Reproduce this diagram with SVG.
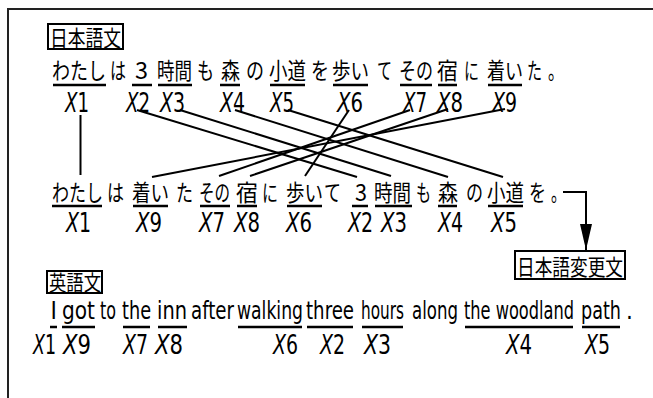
<svg xmlns="http://www.w3.org/2000/svg" width="653" height="398" viewBox="0 0 653 398">
<style>
.jp{font-family:"Noto Sans CJK JP","Noto Sans CJK SC",sans-serif;font-size:23px;fill:#000}
.en{font-family:"DejaVu Sans Condensed","DejaVu Sans",sans-serif;font-size:24px;fill:#000}
.lb{font-family:"DejaVu Sans Condensed","DejaVu Sans",sans-serif;font-size:26px;fill:#000}
.i{font-style:italic}
.ul{stroke:#000;stroke-width:2.5}
.cn{stroke:#000;stroke-width:2;fill:none}
.box{fill:none;stroke:#000;stroke-width:2}
</style>
<defs>
<marker id="ah" viewBox="0 0 26 12" refX="26" refY="6" markerWidth="26" markerHeight="12" markerUnits="userSpaceOnUse" orient="auto">
<path d="M0 0 L26 6 L0 12 Z" fill="#000"/>
</marker>
</defs>
<rect x="8" y="9" width="700" height="450" fill="none" stroke="#222" stroke-width="2"/>

<g id="title-ja"><rect class="box" x="48" y="24" width="75" height="25"/><text class="jp" x="50" y="45.5" textLength="71" lengthAdjust="spacingAndGlyphs" style="font-size:22px">日本語文</text></g>

<!-- Row 1 -->
<g id="r1">
<text class="jp" x="52" y="78.5" textLength="54" lengthAdjust="spacingAndGlyphs">わたし</text>
<text class="jp" x="110" y="78.5" textLength="16" lengthAdjust="spacingAndGlyphs">は</text>
<text class="jp" x="135" y="78.5" textLength="13" lengthAdjust="spacingAndGlyphs">3</text>
<text class="jp" x="157" y="78.5" textLength="35" lengthAdjust="spacingAndGlyphs">時間</text>
<text class="jp" x="197" y="78.5" textLength="17" lengthAdjust="spacingAndGlyphs">も</text>
<text class="jp" x="221" y="78.5" textLength="19" lengthAdjust="spacingAndGlyphs">森</text>
<text class="jp" x="246" y="78.5" textLength="18" lengthAdjust="spacingAndGlyphs">の</text>
<text class="jp" x="269" y="78.5" textLength="37" lengthAdjust="spacingAndGlyphs">小道</text>
<text class="jp" x="311" y="78.5" textLength="18" lengthAdjust="spacingAndGlyphs">を</text>
<text class="jp" x="332" y="78.5" textLength="37" lengthAdjust="spacingAndGlyphs">歩い</text>
<text class="jp" x="377" y="78.5" textLength="15" lengthAdjust="spacingAndGlyphs">て</text>
<text class="jp" x="399" y="78.5" textLength="34" lengthAdjust="spacingAndGlyphs">その</text>
<text class="jp" x="437" y="78.5" textLength="21" lengthAdjust="spacingAndGlyphs">宿</text>
<text class="jp" x="464" y="78.5" textLength="15" lengthAdjust="spacingAndGlyphs">に</text>
<text class="jp" x="487" y="78.5" textLength="36" lengthAdjust="spacingAndGlyphs">着い</text>
<text class="jp" x="527" y="78.5" textLength="15" lengthAdjust="spacingAndGlyphs">た</text>
<text class="jp" x="548" y="78.5" textLength="16" lengthAdjust="spacingAndGlyphs">。</text>
<path class="ul" d="M53 85H106M132 85H152M158 85H192M220 85H240M270 85H305M333 85H368M400 85H432M438 85H457M488 85H522"/>
<text class="lb" x="65" y="112" textLength="24" lengthAdjust="spacingAndGlyphs"><tspan class="i">X</tspan>1</text>
<text class="lb" x="126" y="112" textLength="24" lengthAdjust="spacingAndGlyphs"><tspan class="i">X</tspan>2</text>
<text class="lb" x="160" y="112" textLength="25" lengthAdjust="spacingAndGlyphs"><tspan class="i">X</tspan>3</text>
<text class="lb" x="220" y="112" textLength="25" lengthAdjust="spacingAndGlyphs"><tspan class="i">X</tspan>4</text>
<text class="lb" x="270" y="112" textLength="24" lengthAdjust="spacingAndGlyphs"><tspan class="i">X</tspan>5</text>
<text class="lb" x="337" y="112" textLength="26" lengthAdjust="spacingAndGlyphs"><tspan class="i">X</tspan>6</text>
<text class="lb" x="403" y="112" textLength="24" lengthAdjust="spacingAndGlyphs"><tspan class="i">X</tspan>7</text>
<text class="lb" x="437" y="112" textLength="26" lengthAdjust="spacingAndGlyphs"><tspan class="i">X</tspan>8</text>
<text class="lb" x="492" y="112" textLength="25" lengthAdjust="spacingAndGlyphs"><tspan class="i">X</tspan>9</text>
</g>

<!-- Row 2 -->
<g id="r2">
<text class="jp" x="52" y="200.5" textLength="51" lengthAdjust="spacingAndGlyphs">わたし</text>
<text class="jp" x="107" y="200.5" textLength="17" lengthAdjust="spacingAndGlyphs">は</text>
<text class="jp" x="132" y="200.5" textLength="37" lengthAdjust="spacingAndGlyphs">着い</text>
<text class="jp" x="176" y="200.5" textLength="17" lengthAdjust="spacingAndGlyphs">た</text>
<text class="jp" x="199" y="200.5" textLength="31" lengthAdjust="spacingAndGlyphs">その</text>
<text class="jp" x="236" y="200.5" textLength="22" lengthAdjust="spacingAndGlyphs">宿</text>
<text class="jp" x="262" y="200.5" textLength="16" lengthAdjust="spacingAndGlyphs">に</text>
<text class="jp" x="286" y="200.5" textLength="37" lengthAdjust="spacingAndGlyphs">歩い</text>
<text class="jp" x="324" y="200.5" textLength="17" lengthAdjust="spacingAndGlyphs">て</text>
<text class="jp" x="355" y="200.5" textLength="12" lengthAdjust="spacingAndGlyphs">3</text>
<text class="jp" x="374" y="200.5" textLength="37" lengthAdjust="spacingAndGlyphs">時間</text>
<text class="jp" x="416" y="200.5" textLength="15" lengthAdjust="spacingAndGlyphs">も</text>
<text class="jp" x="438" y="200.5" textLength="20" lengthAdjust="spacingAndGlyphs">森</text>
<text class="jp" x="466" y="200.5" textLength="17" lengthAdjust="spacingAndGlyphs">の</text>
<text class="jp" x="487" y="200.5" textLength="37" lengthAdjust="spacingAndGlyphs">小道</text>
<text class="jp" x="529" y="200.5" textLength="17" lengthAdjust="spacingAndGlyphs">を</text>
<text class="jp" x="551" y="200.5" textLength="15" lengthAdjust="spacingAndGlyphs">。</text>
<path class="ul" d="M52 206H102M133 206H168M200 206H230M237 206H257M287 206H322M352 206H368M375 206H412M438 206H457M488 206H523"/>
<text class="lb" x="66" y="232" textLength="25" lengthAdjust="spacingAndGlyphs"><tspan class="i">X</tspan>1</text>
<text class="lb" x="136" y="232" textLength="26" lengthAdjust="spacingAndGlyphs"><tspan class="i">X</tspan>9</text>
<text class="lb" x="199" y="232" textLength="26" lengthAdjust="spacingAndGlyphs"><tspan class="i">X</tspan>7</text>
<text class="lb" x="234" y="232" textLength="26" lengthAdjust="spacingAndGlyphs"><tspan class="i">X</tspan>8</text>
<text class="lb" x="286" y="232" textLength="26" lengthAdjust="spacingAndGlyphs"><tspan class="i">X</tspan>6</text>
<text class="lb" x="348" y="232" textLength="25" lengthAdjust="spacingAndGlyphs"><tspan class="i">X</tspan>2</text>
<text class="lb" x="381" y="232" textLength="26" lengthAdjust="spacingAndGlyphs"><tspan class="i">X</tspan>3</text>
<text class="lb" x="438" y="232" textLength="25" lengthAdjust="spacingAndGlyphs"><tspan class="i">X</tspan>4</text>
<text class="lb" x="491" y="232" textLength="26" lengthAdjust="spacingAndGlyphs"><tspan class="i">X</tspan>5</text>
</g>

<g id="title-ja2"><rect class="box" x="515" y="251" width="110" height="28"/><text class="jp" x="517" y="274.5" textLength="106" lengthAdjust="spacingAndGlyphs" style="font-size:22px">日本語変更文</text></g>

<g id="title-en"><rect class="box" x="47" y="271" width="55" height="22"/><text class="jp" x="49" y="290" textLength="52" lengthAdjust="spacingAndGlyphs" style="font-size:21px">英語文</text></g>

<!-- Row 3 English -->
<g id="r3">
<text class="en" x="50.5" y="319">I</text>
<text class="en" x="62" y="319" textLength="33" lengthAdjust="spacingAndGlyphs">got</text>
<text class="en" x="100" y="319" textLength="16" lengthAdjust="spacingAndGlyphs">to</text>
<text class="en" x="122" y="319" textLength="29" lengthAdjust="spacingAndGlyphs">the</text>
<text class="en" x="157" y="319" textLength="30" lengthAdjust="spacingAndGlyphs">inn</text>
<text class="en" x="191" y="319" textLength="43" lengthAdjust="spacingAndGlyphs">after</text>
<text class="en" x="237" y="319" textLength="66" lengthAdjust="spacingAndGlyphs">walking</text>
<text class="en" x="306" y="319" textLength="48" lengthAdjust="spacingAndGlyphs">three</text>
<text class="en" x="361" y="319" textLength="43" lengthAdjust="spacingAndGlyphs">hours</text>
<text class="en" x="412" y="319" textLength="46" lengthAdjust="spacingAndGlyphs">along</text>
<text class="en" x="464" y="319" textLength="110" lengthAdjust="spacingAndGlyphs">the woodland</text>
<text class="en" x="581" y="319" textLength="40" lengthAdjust="spacingAndGlyphs">path</text>
<text class="en" x="626" y="319">.</text>
<path class="ul" d="M50 327H57M62 327H95M123 327H150M158 327H187M238 327H302M307 327H353M362 327H403M465 327H573M582 327H620"/>
<text class="lb" x="33" y="354" textLength="23" lengthAdjust="spacingAndGlyphs"><tspan class="i">X</tspan>1</text>
<text class="lb" x="63" y="354" textLength="28" lengthAdjust="spacingAndGlyphs"><tspan class="i">X</tspan>9</text>
<text class="lb" x="123" y="354" textLength="25" lengthAdjust="spacingAndGlyphs"><tspan class="i">X</tspan>7</text>
<text class="lb" x="155" y="354" textLength="28" lengthAdjust="spacingAndGlyphs"><tspan class="i">X</tspan>8</text>
<text class="lb" x="273" y="354" textLength="25" lengthAdjust="spacingAndGlyphs"><tspan class="i">X</tspan>6</text>
<text class="lb" x="320" y="354" textLength="25" lengthAdjust="spacingAndGlyphs"><tspan class="i">X</tspan>2</text>
<text class="lb" x="364" y="354" textLength="27" lengthAdjust="spacingAndGlyphs"><tspan class="i">X</tspan>3</text>
<text class="lb" x="506" y="354" textLength="26" lengthAdjust="spacingAndGlyphs"><tspan class="i">X</tspan>4</text>
<text class="lb" x="585" y="354" textLength="25" lengthAdjust="spacingAndGlyphs"><tspan class="i">X</tspan>5</text>
</g>

<g id="connectors">
<path class="cn" d="M80.5 115V175"/>
<path class="cn" d="M137 110L357 177"/>
<path class="cn" d="M180 110L391 176"/>
<path class="cn" d="M235 110L448 177"/>
<path class="cn" d="M288 110L503 177"/>
<path class="cn" d="M349 110L305 176"/>
<path class="cn" d="M410 110L219 176"/>
<path class="cn" d="M448 109L250 176"/>
<path class="cn" d="M505 109L152 177"/>
<path class="cn" d="M563 192H586V250" marker-end="url(#ah)"/>
</g>
</svg>
